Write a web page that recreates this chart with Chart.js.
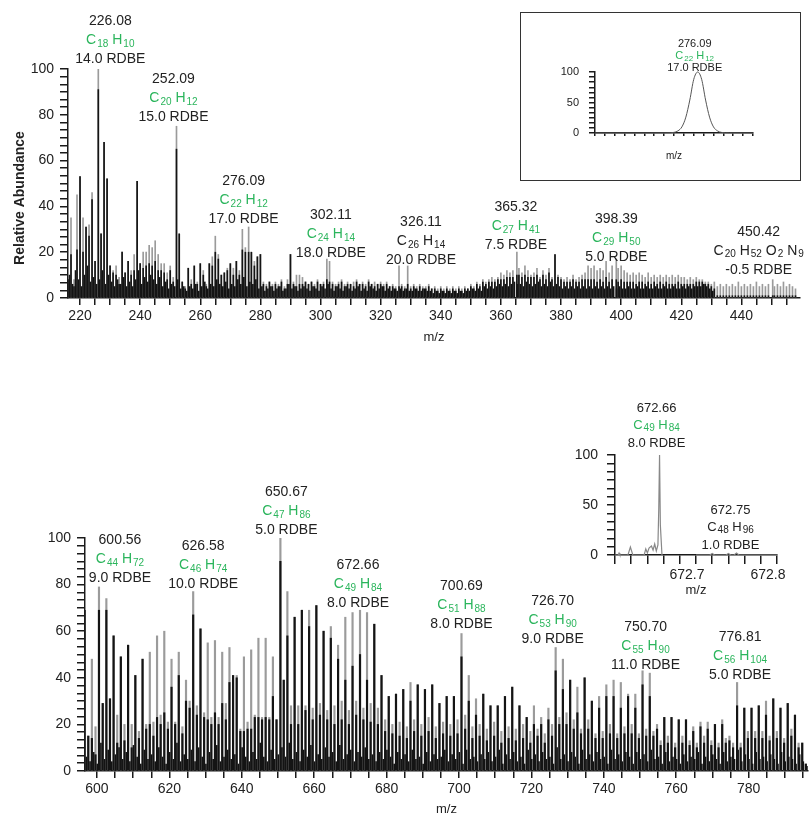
<!DOCTYPE html>
<html>
<head>
<meta charset="utf-8">
<script src="https://cdn.jsdelivr.net/npm/chart.js@4.4.0/dist/chart.umd.min.js"></script>
<style>
  html, body { margin: 0; padding: 0; background: #fff; }
  body { width: 811px; height: 817px; position: relative; overflow: hidden; }
  canvas { position: absolute; }
  #insetBox { position: absolute; left: 520px; top: 12px; width: 281px; height: 169px; border: 1.5px solid #333; box-sizing: border-box; }
</style>
</head>
<body>
<canvas id="topChart" width="811" height="345" style="left:0;top:0"></canvas>
<div id="insetBox"></div>
<canvas id="topInset" width="278" height="166" style="left:521px;top:13px"></canvas>
<canvas id="bottomChart" width="811" height="437" style="left:0;top:380px"></canvas>
<canvas id="bottomInset" width="260" height="205" style="left:540px;top:395px"></canvas>
<script>
const FONT = "'Liberation Sans', Arial, sans-serif";
const INK = '#222';
const GREEN = '#2bb55c';
const BAR_GRAY = '#9b9b9b';
const BAR_BLACK = '#141414';

// ---- upper spectrum (m/z 216-458) ----
const topMz = [
  216,217,218,219,220,221,222,223,224,225,
  226.08,227,228,229,230,231,232,233,234,235,
  236,237,238,239,240,241,242,243,244,245,
  246,247,248,249,250,251,252.09,253,254,255,
  256,257,258,259,260,261,262,263,264,265,
  266,267,268,269,270,271,272,273,274,275,
  276.09,277,278,279,280,281,282,283,284,285,
  286,287,288,289,290,291,292,293,294,295,
  296,297,298,299,300,301,302.11,303,304,305,
  306,307,308,309,310,311,312,313,314,315,
  316,317,318,319,320,321,322,323,324,325,
  326.11,327,328,329,330,331,332,333,334,335,
  336,337,338,339,340,341,342,343,344,345,
  346,347,348,349,350,351,352,353,354,355,
  356,357,358,359,360,361,362,363,364,365.32,
  366,367,368,369,370,371,372,373,374,375,
  376,377,378,379,380,381,382,383,384,385,
  386,387,388,389,390,391,392,393,394,395,
  396,397,398.39,399,400,401,402,403,404,405,
  406,407,408,409,410,411,412,413,414,415,
  416,417,418,419,420,421,422,423,424,425,
  426,427,428,429,430,431,432,433,434,435,
  436,437,438,439,440,441,442,443,444,445,
  446,447,448,449,450.42,451,452,453,454,455,
  456,457,458
];
const topGray = [
  12,35,8,45,53,35,31,32,46,16,
  100,28,68,52,14,12,14,9,20,11,
  16,12,19,51,15,20,20,23,22,25,
  19,15,15,11,14,9,75,28,7,5,
  13,8,14,7,15,12,6,15,18,27,
  19,10,11,13,15,13,16,12,30,22,
  31,20,16,18,19,7,6,7,6,7,
  6,8,5,8,19,7,10,10,9,7,
  6,7,6,8,6,7,17,16,7,6,
  7,8,6,7,6,7,8,6,7,6,
  8,6,7,6,7,6,7,5,6,5,
  14,6,5,14,5,6,5,6,5,5,
  6,4,5,4,5,4,5,4,5,4,
  5,4,5,4,6,5,7,6,8,7,
  8,9,8,9,11,10,12,11,12,20,
  13,11,14,12,10,11,13,9,12,10,
  13,9,19,10,9,8,9,8,10,8,
  9,10,11,14,13,14,12,13,12,16,
  11,14,17,13,14,12,11,10,11,10,
  11,10,9,11,9,10,9,10,9,10,
  9,10,9,10,9,9,8,9,8,9,
  8,8,7,7,6,7,5,6,5,6,
  5,6,5,7,5,6,5,6,5,7,
  5,6,5,6,8,5,6,5,7,5,
  6,5,4
];
const topBlack = [
  8,19,5,21,53,20,31,27,43,16,
  91,28,68,52,14,11,10,6,20,11,
  16,10,12,51,15,13,14,15,14,16,
  12,12,11,8,12,7,65,28,7,4,
  13,6,14,6,15,10,5,15,14,20,
  17,10,11,12,15,10,16,10,21,20,
  20,20,14,18,19,6,5,7,5,6,
  5,7,4,6,19,6,5,6,6,7,
  6,7,5,7,6,6,8,7,6,5,
  6,7,5,6,6,5,7,6,6,5,
  7,6,5,6,6,5,6,5,5,4,
  5,5,4,6,4,5,4,5,4,4,
  5,4,4,3,4,3,4,3,4,3,
  4,3,4,4,5,4,6,5,7,6,
  7,7,7,8,8,8,9,9,9,10,
  10,9,10,9,9,9,10,8,10,8,
  11,8,19,9,8,7,7,7,8,7,
  7,8,8,8,8,8,7,8,7,9,
  7,8,8,7,8,7,7,7,7,6,
  7,7,6,7,6,7,6,7,6,7,
  6,6,6,7,6,6,6,6,6,7,
  7,7,6,6,5,4,1,1,1,1,
  1,1,1,1,1,1,1,1,1,1,
  1,1,1,1,1,1,1,1,1,1,
  1,1,1
];
const topMinorMz = [
  216.5,217.5,218.5,219.5,220.5,221.5,222.5,223.5,224.5,225.5,
  226.5,227.5,228.5,229.5,230.5,231.5,232.5,233.5,234.5,235.5,
  236.5,237.5,238.5,239.5,240.5,241.5,242.5,243.5,244.5,245.5,
  246.5,247.5,248.5,249.5,250.5,251.5,252.5,253.5,254.5,255.5,
  256.5,257.5,258.5,259.5,260.5,261.5,262.5,263.5,264.5,265.5,
  266.5,267.5,268.5,269.5,270.5,271.5,272.5,273.5,274.5,275.5,
  276.5,277.5,278.5,279.5,280.5,281.5,282.5,283.5,284.5,285.5,
  286.5,287.5,288.5,289.5,290.5,291.5,292.5,293.5,294.5,295.5,
  296.5,297.5,298.5,299.5,300.5,301.5,302.5,303.5,304.5,305.5,
  306.5,307.5,308.5,309.5,310.5,311.5,312.5,313.5,314.5,315.5,
  316.5,317.5,318.5,319.5,320.5,321.5,322.5,323.5,324.5,325.5,
  326.5,327.5,328.5,329.5,330.5,331.5,332.5,333.5,334.5,335.5,
  336.5,337.5,338.5,339.5,340.5,341.5,342.5,343.5,344.5,345.5,
  346.5,347.5,348.5,349.5,350.5,351.5,352.5,353.5,354.5,355.5,
  356.5,357.5,358.5,359.5,360.5,361.5,362.5,363.5,364.5,365.5,
  366.5,367.5,368.5,369.5,370.5,371.5,372.5,373.5,374.5,375.5,
  376.5,377.5,378.5,379.5,380.5,381.5,382.5,383.5,384.5,385.5,
  386.5,387.5,388.5,389.5,390.5,391.5,392.5,393.5,394.5,395.5,
  396.5,397.5,398.5,399.5,400.5,401.5,402.5,403.5,404.5,405.5,
  406.5,407.5,408.5,409.5,410.5,411.5,412.5,413.5,414.5,415.5,
  416.5,417.5,418.5,419.5,420.5,421.5,422.5,423.5,424.5,425.5,
  426.5,427.5,428.5,429.5,430.5
];
const topMinor = [
  10,6,12,8,5,10,14,7,9,6,
  8,12,6,10,7,5,8,6,9,5,
  7,5,8,12,6,9,7,10,8,6,
  9,5,7,4,6,5,8,4,5,3,
  5,4,6,3,5,7,4,6,5,8,
  6,5,7,4,6,5,8,6,9,5,
  7,6,8,4,5,3,4,5,3,4,
  5,3,4,6,4,5,3,4,5,4,
  3,5,4,3,5,4,6,4,3,5,
  4,3,5,4,3,4,5,3,4,3,
  5,4,3,4,5,3,4,3,4,3,
  4,3,4,3,3,4,3,3,4,3,
  3,2,3,2,3,2,3,2,3,2,
  3,2,3,3,4,3,4,3,5,4,
  5,4,5,6,5,6,5,6,7,6,
  6,5,7,6,5,6,7,5,6,5,
  7,5,6,5,4,5,4,5,4,5,
  4,5,4,5,4,5,4,5,4,5,
  4,5,4,5,4,4,5,4,4,5,
  4,4,5,4,4,5,4,4,5,4,
  4,5,4,4,5,4,5,4,5,5,
  5,6,5,4,3
];

// ---- inset: zoom on 276.09 ----
const insetTopMz = [275.96,276.03,276.05,276.06,276.065,276.07,276.075,276.08,276.085,276.09,
                    276.095,276.10,276.105,276.11,276.115,276.12,276.13,276.16];
const insetTopAb = [0,0,0.2,1,3.5,10,26,54,88,100,88,54,26,10,3.5,1,0.2,0];

// ---- lower spectrum (m/z 597-796) ----
const bottomMz = [
  596.6,597.6,598.6,599.6,600.56,601.6,602.6,603.6,604.6,605.6,
  606.6,607.6,608.6,609.6,610.6,611.6,612.6,613.6,614.6,615.6,
  616.6,617.6,618.6,619.6,620.6,621.6,622.6,623.6,624.6,625.6,
  626.58,627.6,628.6,629.6,630.6,631.6,632.6,633.6,634.6,635.6,
  636.6,637.6,638.6,639.6,640.6,641.6,642.6,643.6,644.6,645.6,
  646.6,647.6,648.6,649.6,650.67,651.6,652.6,653.6,654.6,655.6,
  656.6,657.6,658.6,659.6,660.6,661.6,662.6,663.6,664.6,665.6,
  666.6,667.6,668.6,669.6,670.6,671.6,672.66,673.6,674.6,675.6,
  676.6,677.6,678.6,679.6,680.6,681.6,682.6,683.6,684.6,685.6,
  686.6,687.6,688.6,689.6,690.6,691.6,692.6,693.6,694.6,695.6,
  696.6,697.6,698.6,699.6,700.69,701.7,702.7,703.7,704.7,705.7,
  706.7,707.7,708.7,709.7,710.7,711.7,712.7,713.7,714.7,715.7,
  716.7,717.7,718.7,719.7,720.7,721.7,722.7,723.7,724.7,725.7,
  726.70,727.7,728.7,729.7,730.7,731.7,732.7,733.7,734.7,735.7,
  736.7,737.7,738.7,739.7,740.7,741.7,742.7,743.7,744.7,745.7,
  746.7,747.7,748.7,749.7,750.70,751.7,752.7,753.7,754.7,755.7,
  756.7,757.7,758.7,759.7,760.7,761.7,762.7,763.7,764.7,765.7,
  766.7,767.7,768.7,769.7,770.7,771.7,772.7,773.7,774.7,775.7,
  776.81,777.8,778.8,779.8,780.8,781.8,782.8,783.8,784.8,785.8,
  786.8,787.8,788.8,789.8,790.8,791.8,792.8,793.8,794.8,795.8
];
const bottomGray = [
  87,15,48,19,79,29,74,31,58,24,
  49,20,54,20,41,17,48,20,51,21,
  58,24,60,21,48,21,51,19,39,30,
  77,28,61,25,55,23,56,23,51,29,
  53,41,41,18,49,21,52,24,57,23,
  57,23,49,22,100,39,77,28,66,28,
  69,28,69,27,71,29,60,26,62,28,
  54,30,66,26,68,30,69,27,68,29,
  63,27,41,22,32,20,33,21,35,19,
  38,22,37,20,35,23,37,19,29,21,
  32,20,32,22,59,24,41,19,31,20,
  33,18,28,21,28,17,32,19,36,18,
  28,20,23,17,28,18,23,16,27,20,
  53,23,48,25,39,22,36,18,40,22,
  30,16,32,17,37,20,39,16,38,19,
  33,20,33,16,43,18,42,17,20,13,
  23,15,23,12,22,15,22,13,19,12,
  21,15,21,13,20,12,22,14,15,12,
  38,12,27,17,27,17,28,17,30,15,
  31,17,27,14,29,18,24,12,12,3
];
const bottomBlack = [
  69,15,14,7,69,29,69,31,58,12,
  49,13,54,10,41,14,48,18,20,15,
  23,20,25,18,36,20,41,16,30,27,
  67,24,61,23,22,20,25,20,29,22,
  38,41,40,17,17,18,18,23,23,22,
  23,22,32,22,90,39,58,20,66,20,
  69,26,62,22,71,24,60,22,57,20,
  48,22,39,20,45,24,50,22,39,21,
  63,20,41,17,32,16,33,15,35,14,
  30,17,37,15,35,17,37,14,29,16,
  32,15,32,16,49,18,30,14,24,15,
  33,13,28,15,28,12,32,14,36,13,
  28,14,23,12,20,15,20,12,22,15,
  43,20,35,20,39,18,25,16,40,18,
  30,14,27,14,32,16,32,14,27,16,
  32,16,27,14,37,15,32,15,18,11,
  23,12,23,10,22,12,22,11,17,10,
  19,12,18,11,20,10,20,12,13,10,
  28,10,27,14,27,14,28,14,24,13,
  31,14,27,12,29,15,24,10,12,3
];
const bottomMinorMz = [
  597.1,598.1,599.1,600.1,601.1,602.1,603.1,604.1,605.1,606.1,
  607.1,608.1,609.1,610.1,611.1,612.1,613.1,614.1,615.1,616.1,
  617.1,618.1,619.1,620.1,621.1,622.1,623.1,624.1,625.1,626.1,
  627.1,628.1,629.1,630.1,631.1,632.1,633.1,634.1,635.1,636.1,
  637.1,638.1,639.1,640.1,641.1,642.1,643.1,644.1,645.1,646.1,
  647.1,648.1,649.1,650.1,651.1,652.1,653.1,654.1,655.1,656.1,
  657.1,658.1,659.1,660.1,661.1,662.1,663.1,664.1,665.1,666.1,
  667.1,668.1,669.1,670.1,671.1,672.1,673.1,674.1,675.1,676.1,
  677.1,678.1,679.1,680.1,681.1,682.1,683.1,684.1,685.1,686.1,
  687.1,688.1,689.1,690.1,691.1,692.1,693.1,694.1,695.1,696.1,
  697.1,698.1,699.1,700.1,701.1,702.1,703.1,704.1,705.1,706.1,
  707.1,708.1,709.1,710.1,711.1,712.1,713.1,714.1,715.1,716.1,
  717.1,718.1,719.1,720.1,721.1,722.1,723.1,724.1,725.1,726.1,
  727.1,728.1,729.1,730.1,731.1,732.1,733.1,734.1,735.1,736.1,
  737.1,738.1,739.1,740.1,741.1,742.1,743.1,744.1,745.1,746.1,
  747.1,748.1,749.1,750.1,751.1,752.1,753.1,754.1,755.1,756.1,
  757.1,758.1,759.1,760.1,761.1,762.1,763.1,764.1,765.1,766.1,
  767.1,768.1,769.1,770.1,771.1,772.1,773.1,774.1,775.1,776.1,
  777.1,778.1,779.1,780.1,781.1,782.1,783.1,784.1,785.1,786.1,
  787.1,788.1,789.1,790.1,791.1,792.1,793.1,794.1,795.1,796.1
];
const bottomMinor = [
  6,4,8,3,12,5,9,4,7,10,
  5,8,4,11,6,3,9,5,7,4,
  10,6,3,8,5,12,4,7,5,9,
  4,10,6,3,8,5,11,4,6,9,
  5,7,3,10,6,4,8,5,12,6,
  4,9,5,7,10,6,12,5,8,4,
  9,6,11,4,7,5,10,6,8,4,
  11,5,7,9,4,8,6,10,5,7,
  4,8,5,9,6,3,8,5,7,4,
  9,5,6,3,8,4,7,5,6,9,
  4,7,5,8,3,9,5,6,4,7,
  5,8,4,6,9,3,7,5,8,4,
  6,3,9,5,7,4,8,5,6,3,
  10,5,7,4,8,6,3,9,5,7,
  4,8,5,6,3,9,5,7,4,8,
  6,3,8,5,7,4,9,5,6,3,
  8,4,6,5,3,7,4,6,5,8,
  3,6,4,7,5,3,8,4,6,5,
  9,4,7,5,3,8,5,6,4,7,
  5,3,8,4,6,5,3,7,4,2
];

// ---- inset: zoom on 672.66 ----
const insetBotMz = [672.600,672.604,672.605,672.606,672.616,672.619,672.622,672.636,672.638,672.640,
                    672.642,672.645,672.647,672.649,672.651,672.653,672.654,672.655,672.656,672.658,
                    672.680,
                    672.700,672.717,672.720,672.723,672.737,672.740,672.743,672.747,672.750,
                    672.753,672.800];
const insetBotAb = [0,0,2,0,0,8,0,0,6,2,7,9,5,11,4,10,45,100,30,0,
                    null,
                    0,0,1.5,0,0,1.5,0,0,2,0,0];
const insetBotTickLabels = [672.7, 672.8];

// ---- peak annotations ----
const topLabels = [
  { mz: 226.08, mass: '226.08', formula: 'C18 H10', rdbe: '14.0 RDBE', green: true, dx: 12, lift: 10 },
  { mz: 252.09, mass: '252.09', formula: 'C20 H12', rdbe: '15.0 RDBE', green: true, dx: -3, lift: 9 },
  { mz: 276.09, mass: '276.09', formula: 'C22 H12', rdbe: '17.0 RDBE', green: true, dx: -5, lift: 8 },
  { mz: 302.11, mass: '302.11', formula: 'C24 H14', rdbe: '18.0 RDBE', green: true, dx: 4, lift: 6 },
  { mz: 326.11, mass: '326.11', formula: 'C26 H14', rdbe: '20.0 RDBE', green: false, dx: 22, lift: 6 },
  { mz: 365.32, mass: '365.32', formula: 'C27 H41', rdbe: '7.5 RDBE', green: true, dx: -1, lift: 7 },
  { mz: 398.39, mass: '398.39', formula: 'C29 H50', rdbe: '5.0 RDBE', green: true, dx: 0, lift: 2 },
  { mz: 450.42, mass: '450.42', formula: 'C20 H52 O2 N9', rdbe: '-0.5 RDBE', green: false, dx: -14, lift: 10 }
];
const bottomLabels = [
  { mz: 600.56, mass: '600.56', formula: 'C44 H72', rdbe: '9.0 RDBE', green: true, dx: 21, lift: 9 },
  { mz: 626.58, mass: '626.58', formula: 'C46 H74', rdbe: '10.0 RDBE', green: true, dx: 10, lift: 7 },
  { mz: 650.67, mass: '650.67', formula: 'C47 H86', rdbe: '5.0 RDBE', green: true, dx: 6, lift: 8 },
  { mz: 672.66, mass: '672.66', formula: 'C49 H84', rdbe: '8.0 RDBE', green: true, dx: -2, lift: 7 },
  { mz: 700.69, mass: '700.69', formula: 'C51 H88', rdbe: '8.0 RDBE', green: true, dx: 0, lift: 9 },
  { mz: 726.70, mass: '726.70', formula: 'C53 H90', rdbe: '9.0 RDBE', green: true, dx: -3, lift: 8 },
  { mz: 750.70, mass: '750.70', formula: 'C55 H90', rdbe: '11.0 RDBE', green: true, dx: 3, lift: 6 },
  { mz: 776.81, mass: '776.81', formula: 'C56 H104', rdbe: '5.0 RDBE', green: true, dx: 3, lift: 7 }
];
const insetTopLabels = [
  { mz: 276.09, mass: '276.09', formula: 'C22 H12', rdbe: '17.0 RDBE', green: true, dx: -3, lift: 4 }
];
const insetBotLabels = [
  { mz: 672.655, mass: '672.66', formula: 'C49 H84', rdbe: '8.0 RDBE', green: true, dx: -3, lift: 12 },
  { mz: 672.750, mass: '672.75', formula: 'C48 H96', rdbe: '1.0 RDBE', green: false, dx: -6, lift: 8 }
];

Chart.defaults.font.family = FONT;
Chart.defaults.animation = false;

function pairs(xs, ys) {
  return xs.map((x, i) => ({ x: x, y: ys[i] }));
}

function drawFormula(ctx, text, cx, y, o, color) {
  const parts = text.match(/[A-Za-z]+|\d+|\s+/g);
  const big = o.size + 'px ' + FONT;
  const small = o.sub + 'px ' + FONT;
  const widths = parts.map(p => {
    const isSub = /\d/.test(p);
    ctx.font = isSub ? small : big;
    return ctx.measureText(p).width + (isSub ? 1 : 0);
  });
  let x = cx - widths.reduce((a, b) => a + b, 0) / 2;
  ctx.fillStyle = color;
  ctx.textAlign = 'left';
  parts.forEach((p, i) => {
    const isSub = /\d/.test(p);
    ctx.font = isSub ? small : big;
    if (!/^\s+$/.test(p)) ctx.fillText(p, x + (isSub ? 1 : 0), y + (isSub ? o.subDy : 0));
    x += widths[i];
  });
}

const peakLabels = {
  id: 'peakLabels',
  afterDatasetsDraw(chart, args, o) {
    const ctx = chart.ctx;
    const xs = chart.scales.x, ys = chart.scales.y;
    (o.items || []).forEach(item => {
      let top = 0;
      chart.data.datasets.forEach(ds => ds.data.forEach(p => {
        if (p && p.y != null && Math.abs(p.x - item.mz) < 1e-6 && p.y > top) top = p.y;
      }));
      const cx = xs.getPixelForValue(item.mz) + item.dx;
      const yR = ys.getPixelForValue(top) - item.lift;
      const yF = yR - o.gap;
      const yM = yF - o.gap;
      ctx.save();
      ctx.textBaseline = 'middle';
      ctx.textAlign = 'center';
      ctx.fillStyle = INK;
      ctx.font = o.size + 'px ' + FONT;
      ctx.fillText(item.mass, cx, yM);
      ctx.fillText(item.rdbe, cx, yR);
      drawFormula(ctx, item.formula, cx, yF, o, item.green ? GREEN : INK);
      ctx.restore();
    });
    // rotated axis title, placed a bit below the axis centre as in the original figure
    if (o.yTitle) {
      ctx.save();
      ctx.translate(o.yTitle.x, o.yTitle.y);
      ctx.rotate(-Math.PI / 2);
      ctx.textAlign = 'center';
      ctx.textBaseline = 'middle';
      ctx.fillStyle = INK;
      ctx.font = 'bold 14px ' + FONT;
      ctx.fillText(o.yTitle.text, 0, 0);
      ctx.restore();
    }
  }
};

function onStep(v, step) {
  const r = Math.round(v / step) * step;
  return Math.abs(v - r) < 1e-6 ? r : null;
}

function barSet(xs, ys, color, order, thick) {
  return {
    data: pairs(xs, ys), backgroundColor: color, borderWidth: 0,
    barThickness: thick, grouped: false, order: order
  };
}

function axisLine(tl) {
  return {
    grid: { display: true, drawOnChartArea: false, drawTicks: true, tickLength: tl, color: '#1a1a1a', lineWidth: 1.5, offset: false },
    border: { display: true, color: '#1a1a1a', width: 1.5 }
  };
}

function spectrum(id, o) {
  return new Chart(document.getElementById(id), {
    type: 'bar',
    data: {
      datasets: [
        barSet(o.mz, o.black, BAR_BLACK, 0, o.thick),
        barSet(o.minorMz, o.minor, BAR_BLACK, 1, 1),
        barSet(o.mz, o.gray, BAR_GRAY, 2, o.thick)
      ]
    },
    options: {
      responsive: false,
      devicePixelRatio: 1,
      events: [],
      layout: { padding: { top: o.padTop, right: o.padRight, left: 0, bottom: 0 } },
      plugins: {
        legend: { display: false }, tooltip: { enabled: false },
        peakLabels: { items: o.labels, size: 14, sub: 10, subDy: 4, gap: 19, yTitle: o.yTitle }
      },
      scales: {
        x: Object.assign(axisLine(7), {
          type: 'linear', min: o.xMin, max: o.xMax, offset: false,
          ticks: {
            stepSize: 5, autoSkip: false, maxRotation: 0, includeBounds: false, padding: 3,
            color: INK, font: { size: 14 },
            callback: v => { const r = onStep(v, 20); return r === null ? '' : String(r); }
          },
          title: { display: true, text: 'm/z', color: INK, font: { size: 13 }, padding: { top: 0, bottom: 0 } },
          afterFit: s => { s.height = o.xH; }
        }),
        y: Object.assign(axisLine(8), {
          min: 0, max: 100,
          ticks: {
            stepSize: 10 / 3, autoSkip: false, includeBounds: false, padding: 6,
            color: INK, font: { size: 14 },
            callback: v => { const r = onStep(v, 20); return r === null ? '' : String(r); }
          },
          afterFit: s => { s.width = o.yW; }
        })
      }
    },
    plugins: [peakLabels]
  });
}

spectrum('topChart', {
  mz: topMz, gray: topGray, black: topBlack, minorMz: topMinorMz, minor: topMinor,
  labels: topLabels, xMin: 216, xMax: 459.5, thick: 1,
  padTop: 69, padRight: 11, xH: 47, yW: 68,
  yTitle: { text: 'Relative Abundance', x: 20, y: 198 }
});

spectrum('bottomChart', {
  mz: bottomMz, gray: bottomGray, black: bottomBlack, minorMz: bottomMinorMz, minor: bottomMinor,
  labels: bottomLabels, xMin: 596.7, xMax: 796.4, thick: 1.5,
  padTop: 158, padRight: 3, xH: 46, yW: 85, yTitle: null
});

function inset(id, o) {
  return new Chart(document.getElementById(id), {
    type: 'line',
    data: {
      datasets: [{
        data: pairs(o.mz, o.ab), borderColor: o.color, borderWidth: o.lw,
        pointRadius: 0, tension: o.tension, cubicInterpolationMode: o.tension ? 'monotone' : 'default',
        spanGaps: false, clip: false, fill: false
      }]
    },
    options: {
      responsive: false,
      devicePixelRatio: 1,
      events: [],
      layout: { padding: { top: o.padTop, right: o.padRight, left: 0, bottom: 0 } },
      plugins: {
        legend: { display: false }, tooltip: { enabled: false },
        peakLabels: { items: o.labels, size: o.font, sub: o.sub, subDy: o.subDy, gap: o.gap }
      },
      scales: {
        x: Object.assign(axisLine(o.xTick), {
          type: 'linear', min: o.xMin, max: o.xMax,
          ticks: {
            stepSize: o.xStep, autoSkip: false, maxRotation: 0, padding: 3, labelOffset: o.labelShift,
            color: INK, font: { size: o.tickFont },
            callback: v => o.xLabel(v)
          },
          title: { display: true, text: 'm/z', color: INK, font: { size: o.titleFont }, padding: { top: 0, bottom: o.titlePad } },
          afterFit: s => { s.height = o.xH; }
        }),
        y: Object.assign(axisLine(o.yTick), {
          min: 0, max: 100,
          ticks: {
            stepSize: 50 / 6, autoSkip: false, padding: o.yPad,
            color: INK, font: { size: o.tickFont },
            callback: v => { const r = onStep(v, 50); return r === null ? '' : String(r); }
          },
          afterFit: s => { s.width = o.yW; }
        })
      }
    },
    plugins: [peakLabels]
  });
}

inset('topInset', {
  mz: insetTopMz, ab: insetTopAb, color: '#555', lw: 1, tension: 0.4,
  labels: insetTopLabels, font: 11, sub: 8, subDy: 3, gap: 12,
  xMin: 275.96, xMax: 276.16, xStep: 0.0125, xTick: 3, xLabel: () => '', labelShift: 0,
  yTick: 6, yPad: 10, tickFont: 11, titleFont: 10, titlePad: 17,
  padTop: 59, padRight: 46, xH: 46, yW: 74
});

inset('bottomInset', {
  mz: insetBotMz, ab: insetBotAb, color: '#888', lw: 1.2, tension: 0,
  labels: insetBotLabels, font: 13, sub: 10, subDy: 3, gap: 17.5,
  xMin: 672.60, xMax: 672.80, xStep: 0.02, xTick: 9, labelShift: -9,
  xLabel: v => {
    const hit = insetBotTickLabels.find(t => Math.abs(t - v) < 1e-6);
    return hit === undefined ? '' : hit.toFixed(1);
  },
  yTick: 8, yPad: 9, tickFont: 14, titleFont: 13, titlePad: 2,
  padTop: 60, padRight: 23, xH: 45, yW: 75
});
</script>
</body>
</html>
